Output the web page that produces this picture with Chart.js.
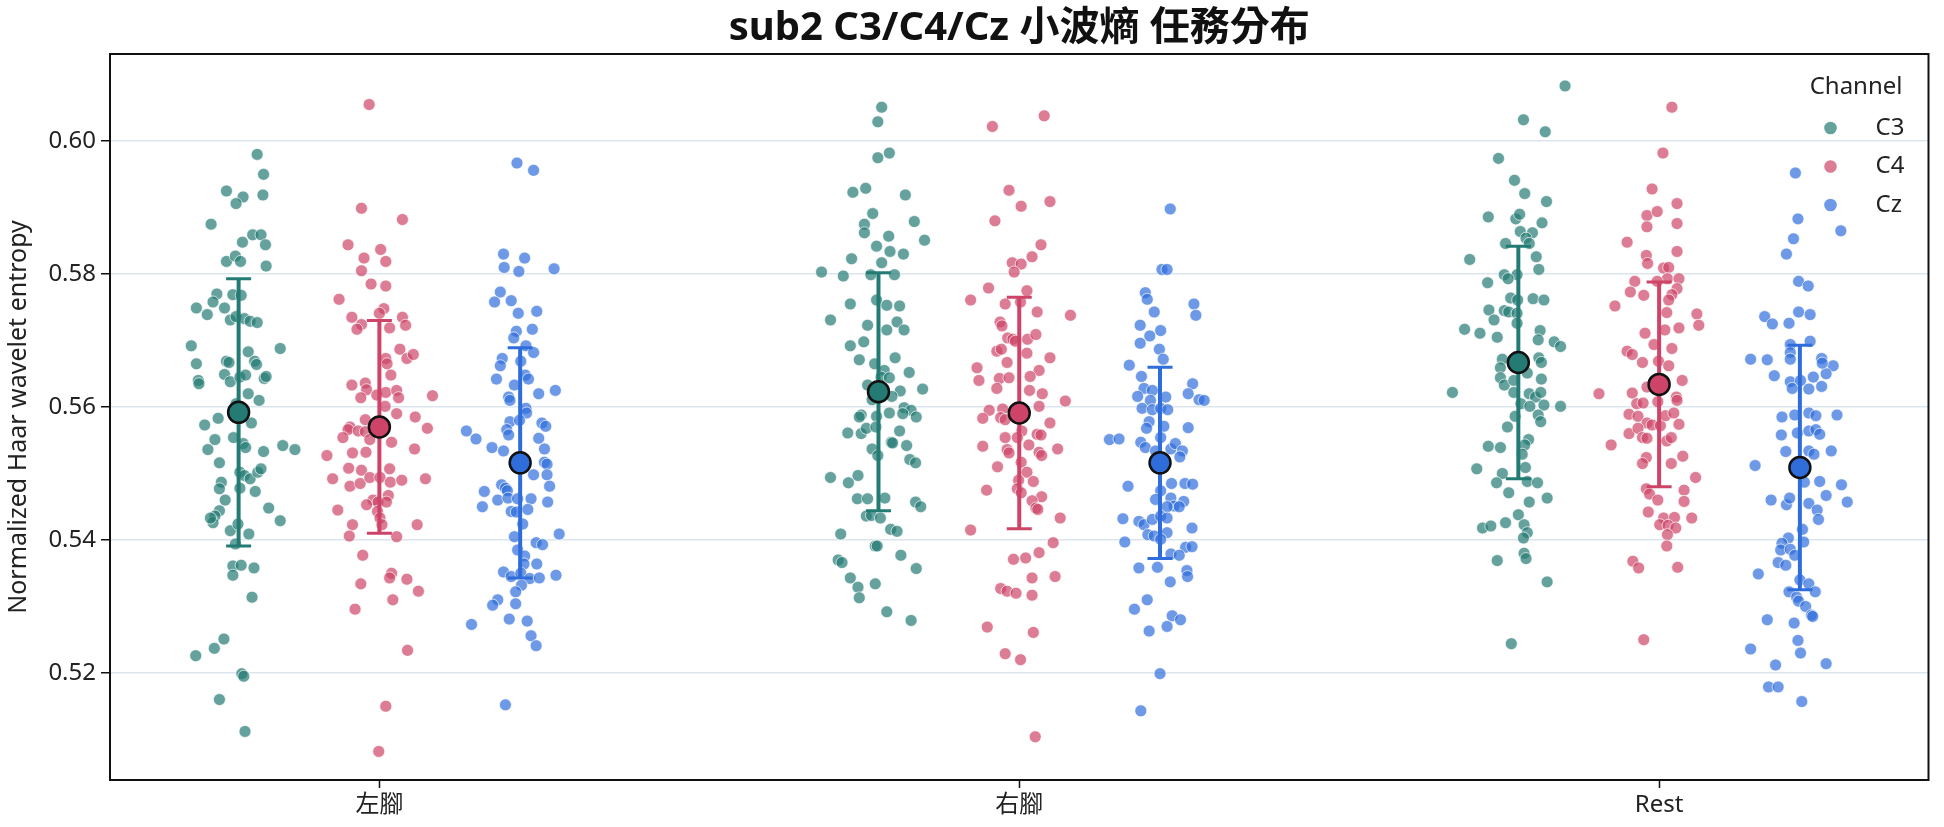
<!DOCTYPE html>
<html><head><meta charset="utf-8">
<script src="https://cdn.jsdelivr.net/npm/chart.js@4.4.1/dist/chart.umd.min.js"></script>
<style>html,body{margin:0;padding:0;background:#fff;}#wrap{width:1944px;height:827px;}</style>
</head><body><div id="wrap"><canvas id="c" width="1944" height="827"></canvas></div>
<script>
const categories = ['左腳', '右腳', 'Rest'];
const channels = ['C3', 'C4', 'Cz'];
const yTicks = [0.52, 0.54, 0.56, 0.58, 0.60];
const titleText = 'sub2 C3/C4/Cz 小波熵 任務分布';
const yTitle = 'Normalized Haar wavelet entropy';

// per-group raw values (y) and horizontal jitter (category units)
const c3_left_y = [0.5980,0.5950,0.5925,0.5916,0.5906,0.5919,0.5875,0.5859,0.5859,0.5848,0.5844,0.5819,0.5827,0.5819,0.5812,0.5770,0.5769,0.5768,0.5758,0.5749,0.5739,0.5749,0.5731,0.5736,0.5733,0.5729,0.5727,0.5692,0.5688,0.5683,0.5665,0.5669,0.5667,0.5669,0.5664,0.5649,0.5638,0.5645,0.5648,0.5640,0.5635,0.5643,0.5646,0.5620,0.5610,0.5605,0.5583,0.5573,0.5576,0.5554,0.5551,0.5536,0.5545,0.5539,0.5542,0.5536,0.5533,0.5516,0.5502,0.5497,0.5492,0.5502,0.5507,0.5487,0.5477,0.5478,0.5473,0.5460,0.5444,0.5436,0.5426,0.5433,0.5448,0.5429,0.5414,0.5424,0.5409,0.5394,0.5361,0.5362,0.5358,0.5347,0.5314,0.5251,0.5237,0.5226,0.5199,0.5195,0.5160,0.5112];
const c3_left_jx = [0.029,0.039,-0.019,0.007,-0.004,0.038,-0.043,0.022,0.035,0.006,0.042,-0.019,-0.005,0.003,0.043,-0.034,-0.009,0.004,-0.040,-0.066,-0.049,-0.022,-0.013,-0.004,0.009,0.018,0.029,-0.074,0.065,0.015,-0.066,-0.019,-0.015,0.025,0.028,-0.022,-0.013,0.002,0.011,-0.063,-0.062,0.040,0.043,0.015,0.032,-0.004,-0.032,-0.053,0.020,-0.008,-0.037,-0.048,0.007,0.011,0.069,0.088,0.039,-0.030,0.002,0.009,0.018,0.030,0.035,-0.027,-0.030,0.002,0.026,-0.021,-0.030,-0.037,-0.040,-0.044,0.047,0.065,-0.013,-0.001,0.016,-0.005,-0.009,0.004,0.024,-0.009,0.021,-0.023,-0.038,-0.067,0.005,0.008,-0.030,0.010];
const c4_left_y = [0.6055,0.5899,0.5882,0.5844,0.5837,0.5824,0.5819,0.5805,0.5785,0.5782,0.5762,0.5748,0.5741,0.5735,0.5735,0.5724,0.5717,0.5719,0.5723,0.5687,0.5673,0.5679,0.5673,0.5665,0.5648,0.5633,0.5636,0.5626,0.5614,0.5618,0.5622,0.5625,0.5614,0.5617,0.5601,0.5590,0.5585,0.5581,0.5568,0.5570,0.5566,0.5554,0.5564,0.5563,0.5551,0.5547,0.5527,0.5531,0.5532,0.5537,0.5508,0.5505,0.5507,0.5492,0.5481,0.5485,0.5494,0.5494,0.5487,0.5490,0.5492,0.5467,0.5460,0.5453,0.5457,0.5457,0.5445,0.5443,0.5433,0.5423,0.5423,0.5423,0.5406,0.5405,0.5377,0.5350,0.5343,0.5341,0.5334,0.5323,0.5310,0.5296,0.5234,0.5150,0.5082];
const c4_left_jx = [-0.016,-0.028,0.036,-0.049,0.002,-0.024,0.010,-0.028,-0.013,0.010,-0.063,0.007,0.000,-0.043,0.036,-0.028,-0.035,0.016,0.041,0.032,0.043,0.053,0.010,0.012,0.018,-0.043,-0.022,-0.020,-0.029,-0.004,0.010,0.027,0.030,0.083,0.009,0.027,0.056,-0.022,0.075,-0.046,-0.049,-0.057,-0.033,-0.022,-0.015,0.019,-0.082,-0.042,-0.021,0.055,-0.048,-0.028,0.016,-0.073,-0.046,-0.030,-0.015,0.001,0.017,0.035,0.072,0.014,-0.010,-0.020,-0.002,0.011,-0.065,-0.003,0.001,0.004,-0.042,0.059,-0.047,0.027,-0.026,0.019,0.016,0.043,-0.029,0.061,0.021,-0.038,0.044,0.010,-0.001];
const cz_left_y = [0.5967,0.5956,0.5830,0.5824,0.5810,0.5804,0.5808,0.5773,0.5758,0.5760,0.5744,0.5741,0.5717,0.5714,0.5704,0.5692,0.5682,0.5673,0.5662,0.5669,0.5648,0.5642,0.5642,0.5633,0.5620,0.5625,0.5615,0.5610,0.5598,0.5591,0.5564,0.5552,0.5578,0.5566,0.5558,0.5580,0.5576,0.5571,0.5553,0.5539,0.5534,0.5537,0.5517,0.5514,0.5498,0.5498,0.5481,0.5473,0.5483,0.5478,0.5474,0.5450,0.5460,0.5463,0.5462,0.5462,0.5443,0.5442,0.5446,0.5457,0.5424,0.5409,0.5405,0.5396,0.5393,0.5385,0.5376,0.5364,0.5364,0.5352,0.5345,0.5350,0.5342,0.5343,0.5347,0.5332,0.5322,0.5310,0.5302,0.5304,0.5273,0.5281,0.5278,0.5256,0.5241,0.5152];
const cz_left_jx = [-0.005,0.021,-0.026,0.007,-0.025,-0.002,0.053,-0.031,-0.040,-0.014,0.026,-0.003,0.019,-0.006,-0.010,0.009,0.021,-0.028,-0.031,0.001,0.008,0.013,-0.037,-0.009,0.029,0.055,-0.018,-0.016,0.009,0.010,-0.084,-0.069,-0.016,-0.021,-0.018,-0.001,0.034,0.040,0.029,-0.044,-0.026,0.038,0.038,0.042,0.021,0.042,0.046,-0.056,-0.029,-0.023,-0.020,-0.059,-0.035,-0.019,-0.004,0.017,-0.014,-0.006,0.012,0.043,0.004,0.061,-0.009,0.025,0.035,-0.004,0.007,0.006,0.026,-0.026,-0.014,0.001,0.015,0.030,0.056,0.002,-0.007,-0.035,-0.043,-0.007,-0.076,-0.017,0.011,0.017,0.025,-0.023];
const c3_right_y = [0.6051,0.6029,0.5982,0.5975,0.5923,0.5929,0.5919,0.5891,0.5875,0.5862,0.5879,0.5857,0.5851,0.5842,0.5834,0.5830,0.5823,0.5817,0.5803,0.5797,0.5799,0.5799,0.5755,0.5761,0.5753,0.5752,0.5731,0.5723,0.5716,0.5728,0.5716,0.5692,0.5698,0.5671,0.5665,0.5674,0.5655,0.5652,0.5645,0.5644,0.5633,0.5624,0.5627,0.5611,0.5616,0.5599,0.5595,0.5585,0.5588,0.5585,0.5586,0.5591,0.5590,0.5561,0.5560,0.5568,0.5570,0.5564,0.5547,0.5546,0.5542,0.5537,0.5527,0.5521,0.5516,0.5494,0.5486,0.5497,0.5462,0.5462,0.5463,0.5457,0.5450,0.5436,0.5437,0.5433,0.5416,0.5413,0.5409,0.5391,0.5391,0.5377,0.5370,0.5366,0.5357,0.5343,0.5329,0.5313,0.5334,0.5292,0.5279];
const c3_right_jx = [0.005,-0.001,0.017,-0.001,-0.040,-0.020,0.042,-0.009,-0.022,-0.022,0.056,0.016,0.072,-0.003,0.018,0.039,-0.042,0.005,-0.089,-0.055,-0.012,0.025,-0.044,-0.003,0.013,0.033,-0.075,-0.017,0.013,0.029,0.040,-0.044,-0.023,-0.030,-0.006,0.026,0.009,0.048,0.004,0.017,-0.017,0.034,0.069,-0.010,0.021,0.040,0.051,0.059,-0.027,-0.030,-0.003,0.017,0.038,-0.048,-0.027,-0.019,-0.004,0.033,0.020,0.022,0.044,-0.010,-0.001,0.049,0.058,-0.075,-0.047,-0.032,-0.033,-0.017,0.010,0.058,0.066,-0.019,-0.011,0.003,0.019,0.029,-0.059,-0.005,-0.002,0.035,-0.063,-0.057,0.059,-0.044,-0.032,-0.030,-0.005,0.013,0.051];
const c4_right_y = [0.6038,0.6022,0.5926,0.5909,0.5902,0.5880,0.5844,0.5826,0.5817,0.5815,0.5803,0.5779,0.5761,0.5775,0.5755,0.5758,0.5743,0.5738,0.5728,0.5722,0.5704,0.5702,0.5699,0.5702,0.5709,0.5684,0.5687,0.5681,0.5674,0.5667,0.5659,0.5640,0.5655,0.5646,0.5643,0.5644,0.5628,0.5625,0.5620,0.5609,0.5601,0.5595,0.5597,0.5583,0.5584,0.5581,0.5576,0.5564,0.5559,0.5558,0.5554,0.5554,0.5541,0.5543,0.5537,0.5536,0.5531,0.5532,0.5527,0.5517,0.5510,0.5502,0.5490,0.5488,0.5475,0.5477,0.5471,0.5465,0.5459,0.5448,0.5446,0.5433,0.5415,0.5396,0.5381,0.5373,0.5371,0.5343,0.5345,0.5327,0.5323,0.5320,0.5317,0.5269,0.5261,0.5229,0.5220,0.5104];
const c4_right_jx = [0.039,-0.042,-0.016,0.048,0.003,-0.038,0.034,0.020,-0.011,0.003,-0.008,-0.048,-0.076,0.012,-0.022,0.002,0.028,0.080,-0.030,-0.027,-0.018,-0.010,-0.006,0.013,0.026,-0.035,-0.028,0.012,0.048,-0.019,-0.066,-0.063,0.031,0.017,-0.031,-0.016,-0.035,0.016,0.036,0.072,0.031,-0.047,-0.026,-0.057,-0.029,-0.022,0.048,0.004,0.028,0.034,-0.022,-0.003,-0.057,0.015,0.060,-0.019,-0.016,0.031,0.035,0.003,-0.034,0.012,-0.001,0.022,-0.051,-0.003,0.003,0.035,0.020,0.026,0.029,0.064,-0.076,0.053,0.031,0.010,-0.009,0.020,0.056,-0.029,-0.019,-0.005,0.020,-0.050,0.022,-0.022,0.002,0.025];
const cz_right_y = [0.5898,0.5807,0.5807,0.5772,0.5762,0.5755,0.5738,0.5743,0.5723,0.5715,0.5707,0.5696,0.5687,0.5672,0.5663,0.5646,0.5635,0.5628,0.5616,0.5625,0.5620,0.5615,0.5610,0.5611,0.5610,0.5598,0.5596,0.5598,0.5596,0.5578,0.5568,0.5571,0.5569,0.5551,0.5552,0.5547,0.5539,0.5554,0.5537,0.5545,0.5534,0.5525,0.5534,0.5481,0.5485,0.5485,0.5484,0.5474,0.5461,0.5463,0.5458,0.5451,0.5450,0.5450,0.5432,0.5428,0.5423,0.5431,0.5436,0.5433,0.5418,0.5408,0.5406,0.5411,0.5401,0.5397,0.5389,0.5390,0.5379,0.5377,0.5358,0.5359,0.5354,0.5345,0.5337,0.5310,0.5296,0.5286,0.5280,0.5270,0.5263,0.5199,0.5143];
const cz_right_jx = [0.016,0.003,0.011,-0.023,-0.020,0.053,0.056,-0.009,-0.031,0.001,-0.016,-0.031,-0.001,0.005,-0.048,-0.029,0.051,-0.025,-0.035,-0.012,0.044,0.009,-0.015,0.061,0.069,-0.028,-0.012,0.001,0.012,-0.017,-0.021,0.006,0.044,-0.079,-0.064,-0.030,-0.023,0.001,0.017,0.024,0.035,0.031,-0.007,-0.050,0.018,0.039,0.051,0.001,-0.007,0.017,0.037,0.022,0.030,0.011,-0.058,-0.033,-0.025,-0.012,0.001,0.011,0.050,-0.019,-0.009,0.011,0.001,-0.055,0.040,0.050,0.017,0.030,-0.033,-0.004,0.042,0.043,0.016,-0.020,-0.040,0.019,0.032,0.011,-0.017,0.000,-0.030];
const c3_rest_y = [0.6083,0.6032,0.6014,0.5974,0.5941,0.5921,0.5909,0.5886,0.5883,0.5890,0.5877,0.5864,0.5862,0.5854,0.5846,0.5846,0.5822,0.5826,0.5807,0.5799,0.5799,0.5793,0.5787,0.5764,0.5761,0.5763,0.5761,0.5746,0.5745,0.5743,0.5741,0.5731,0.5726,0.5717,0.5711,0.5705,0.5715,0.5701,0.5698,0.5691,0.5674,0.5667,0.5672,0.5659,0.5651,0.5644,0.5633,0.5640,0.5642,0.5622,0.5622,0.5620,0.5615,0.5622,0.5605,0.5601,0.5603,0.5601,0.5588,0.5578,0.5586,0.5570,0.5541,0.5539,0.5551,0.5543,0.5529,0.5507,0.5509,0.5500,0.5486,0.5488,0.5486,0.5471,0.5463,0.5457,0.5438,0.5426,0.5418,0.5421,0.5423,0.5411,0.5403,0.5380,0.5372,0.5369,0.5337,0.5244];
const c3_rest_jx = [0.073,0.008,0.042,-0.031,-0.006,0.010,0.044,-0.047,-0.004,0.002,0.037,0.003,0.022,0.012,-0.020,0.017,-0.076,0.028,0.032,-0.022,-0.002,-0.016,-0.048,-0.012,-0.001,0.023,0.040,-0.046,-0.022,-0.015,-0.002,-0.038,-0.002,-0.084,-0.060,-0.033,0.034,0.031,0.056,0.066,0.032,0.036,-0.025,-0.028,0.014,-0.028,-0.022,-0.007,0.036,-0.103,-0.007,0.017,0.027,0.035,0.004,0.018,0.040,0.066,0.031,0.035,-0.005,-0.017,-0.047,-0.028,0.016,0.010,0.006,-0.065,0.011,-0.025,-0.034,0.014,0.030,-0.015,0.045,0.017,0.000,-0.020,-0.056,-0.043,0.009,0.014,0.008,0.009,0.012,-0.033,0.045,-0.011];
const c4_rest_y = [0.6051,0.5982,0.5928,0.5906,0.5888,0.5894,0.5871,0.5876,0.5848,0.5834,0.5828,0.5816,0.5809,0.5810,0.5793,0.5793,0.5789,0.5789,0.5778,0.5773,0.5768,0.5769,0.5761,0.5752,0.5742,0.5740,0.5723,0.5719,0.5716,0.5711,0.5694,0.5688,0.5684,0.5679,0.5667,0.5669,0.5662,0.5640,0.5630,0.5620,0.5621,0.5615,0.5610,0.5605,0.5606,0.5608,0.5589,0.5586,0.5576,0.5573,0.5572,0.5587,0.5591,0.5574,0.5560,0.5568,0.5554,0.5553,0.5549,0.5554,0.5543,0.5524,0.5515,0.5515,0.5526,0.5494,0.5477,0.5469,0.5460,0.5475,0.5458,0.5442,0.5433,0.5434,0.5433,0.5423,0.5422,0.5418,0.5408,0.5391,0.5368,0.5358,0.5359,0.5250];
const c4_rest_jx = [0.020,0.006,-0.011,0.028,-0.019,-0.003,-0.019,0.028,-0.050,0.028,-0.020,-0.018,0.007,0.015,0.013,0.031,-0.038,-0.003,0.028,-0.045,-0.024,0.020,0.015,-0.069,0.012,0.059,0.062,0.031,0.009,-0.022,-0.008,0.020,-0.050,-0.042,-0.026,-0.001,0.015,0.036,-0.019,-0.094,-0.042,0.027,0.028,-0.035,-0.025,-0.002,-0.047,-0.033,-0.019,-0.011,0.002,0.010,0.023,0.031,-0.047,-0.033,-0.026,-0.019,0.012,0.019,-0.075,-0.020,-0.026,0.019,0.037,0.057,-0.020,-0.015,-0.002,0.039,0.039,-0.017,0.007,0.024,0.051,0.001,0.014,0.026,0.013,0.012,-0.041,-0.032,0.029,-0.024];
const cz_rest_y = [0.5952,0.5883,0.5865,0.5853,0.5830,0.5789,0.5782,0.5736,0.5725,0.5726,0.5743,0.5739,0.5694,0.5699,0.5672,0.5671,0.5682,0.5672,0.5673,0.5662,0.5650,0.5666,0.5647,0.5645,0.5638,0.5640,0.5628,0.5627,0.5631,0.5585,0.5588,0.5591,0.5587,0.5588,0.5558,0.5561,0.5564,0.5566,0.5559,0.5533,0.5534,0.5529,0.5534,0.5512,0.5487,0.5488,0.5483,0.5460,0.5453,0.5463,0.5455,0.5467,0.5457,0.5445,0.5431,0.5416,0.5403,0.5395,0.5385,0.5386,0.5377,0.5397,0.5366,0.5362,0.5349,0.5340,0.5322,0.5334,0.5322,0.5314,0.5308,0.5300,0.5287,0.5285,0.5280,0.5275,0.5249,0.5230,0.5236,0.5212,0.5214,0.5179,0.5179,0.5157];
const cz_rest_jx = [-0.007,-0.003,0.064,-0.010,-0.021,-0.002,0.013,-0.055,-0.043,-0.017,-0.002,0.016,-0.015,0.016,-0.077,-0.051,-0.015,-0.015,0.034,0.052,0.041,0.035,-0.040,0.021,-0.015,0.001,-0.012,0.014,0.034,-0.028,-0.008,0.014,0.025,0.058,-0.029,-0.004,0.014,0.025,0.031,-0.022,0.014,0.022,0.049,-0.070,0.007,0.031,0.065,-0.045,-0.021,-0.016,0.014,0.041,0.074,0.027,0.029,0.004,-0.018,-0.028,-0.030,-0.015,-0.008,0.006,-0.034,-0.022,-0.065,0.000,-0.017,0.014,0.024,-0.005,-0.002,0.009,0.018,0.020,-0.051,-0.009,-0.003,0.001,-0.077,-0.038,0.041,-0.049,-0.034,0.003];

// summary per channel (order: 左腳, 右腳, Rest)
const c3_mean = [0.5592, 0.5623, 0.5667];
const c3_sd   = [0.0201, 0.0179, 0.0175];
const c4_mean = [0.5570, 0.5591, 0.5634];
const c4_sd   = [0.0160, 0.0174, 0.0154];
const cz_mean = [0.5516, 0.5516, 0.5509];
const cz_sd   = [0.0173, 0.0144, 0.0184];

const FONT = '"Noto Sans", "Noto Sans CJK TC", sans-serif';
const colors = { C3: [35,123,115], C4: [205,68,104], Cz: [47,109,219] };
const rgba = (c, a) => `rgba(${c[0]},${c[1]},${c[2]},${a})`;
const dodge = { C3: -0.22, C4: 0, Cz: 0.22 };
const groups = {
  C3: { y: [c3_left_y, c3_right_y, c3_rest_y], jx: [c3_left_jx, c3_right_jx, c3_rest_jx], mean: c3_mean, sd: c3_sd },
  C4: { y: [c4_left_y, c4_right_y, c4_rest_y], jx: [c4_left_jx, c4_right_jx, c4_rest_jx], mean: c4_mean, sd: c4_sd },
  Cz: { y: [cz_left_y, cz_right_y, cz_rest_y], jx: [cz_left_jx, cz_right_jx, cz_rest_jx], mean: cz_mean, sd: cz_sd }
};

const datasets = [];
channels.forEach(ch => {
  const g = groups[ch];
  const pts = [];
  categories.forEach((cat, i) => {
    const ys = g.y[i], js = g.jx[i];
    const n = Math.min(ys.length, js.length);
    for (let j = 0; j < n; j++) pts.push({ x: i + dodge[ch] + js[j], y: ys[j] });
  });
  datasets.push({
    label: ch, data: pts, order: 3,
    pointRadius: 6, pointHoverRadius: 6,
    pointBackgroundColor: rgba(colors[ch], 0.7),
    pointBorderColor: 'rgba(255,255,255,0.75)', pointBorderWidth: 0.9
  });
});
channels.forEach(ch => {
  const g = groups[ch];
  const bars = [];
  categories.forEach((cat, i) => {
    const x = i + dodge[ch];
    bars.push({ x, y: g.mean[i] - g.sd[i] }, { x, y: g.mean[i] + g.sd[i] }, { x, y: null });
  });
  datasets.push({
    label: ch + ' sd', data: bars, order: 2, showLine: true, spanGaps: false,
    borderColor: rgba(colors[ch], 1), borderWidth: 4,
    pointStyle: 'line', pointRadius: 12.5, pointHoverRadius: 12.5,
    pointBorderColor: rgba(colors[ch], 1), pointBorderWidth: 3
  });
});
channels.forEach(ch => {
  const g = groups[ch];
  datasets.push({
    label: ch + ' mean', order: 1,
    data: categories.map((c, i) => ({ x: i + dodge[ch], y: g.mean[i] })),
    pointRadius: 10.5, pointHoverRadius: 10.5,
    pointBackgroundColor: rgba(colors[ch], 1),
    pointBorderColor: '#111', pointBorderWidth: 2.5
  });
});

const framePlugin = {
  id: 'frame',
  beforeDatasetsDraw(chart) {
    const { ctx, chartArea: a } = chart;
    ctx.save(); ctx.strokeStyle = '#111'; ctx.lineWidth = 2;
    ctx.strokeRect(a.left, a.top, a.right - a.left, a.bottom - a.top);
    ctx.restore();
  }
};
const legendPlugin = {
  id: 'channelLegend',
  afterDraw(chart) {
    const { ctx, chartArea: a } = chart;
    ctx.save();
    ctx.fillStyle = '#222'; ctx.font = '24px ' + FONT; ctx.textBaseline = 'middle';
    ctx.textAlign = 'right';
    ctx.fillText('Channel', a.right - 26, a.top + 33);
    channels.forEach((ch, k) => {
      const y = a.top + 74 + k * 38.5;
      ctx.beginPath(); ctx.arc(a.right - 98, y, 6.3, 0, Math.PI * 2);
      ctx.fillStyle = rgba(colors[ch], 0.7); ctx.fill();
      ctx.fillStyle = '#222'; ctx.textAlign = 'left';
      ctx.fillText(ch, a.right - 53, y);
    });
    ctx.restore();
  }
};

new Chart(document.getElementById('c'), {
  type: 'scatter',
  data: { datasets },
  options: {
    responsive: false, animation: false, devicePixelRatio: 1,
    layout: { padding: { left: 0, right: 7, top: 0, bottom: 0 } },
    plugins: {
      legend: { display: false }, tooltip: { enabled: false },
      title: { display: true, fullSize: false, text: titleText, color: '#111',
        font: { family: FONT, size: 40, weight: 'bold' }, padding: { top: 5, bottom: 1 } }
    },
    scales: {
      x: {
        type: 'linear', min: -0.421, max: 2.421,
        afterBuildTicks: s => { s.ticks = categories.map((c, i) => ({ value: i })); },
        ticks: { callback: v => categories[v], color: '#222', font: { family: FONT, size: 24 }, padding: 3, autoSkip: false, maxRotation: 0 },
        grid: { drawOnChartArea: false, tickLength: 8, tickColor: '#111', tickWidth: 1.5 },
        border: { display: false },
        afterFit: s => { s.height = 47; }
      },
      y: {
        min: 0.5039, max: 0.6131,
        afterBuildTicks: s => { s.ticks = yTicks.map(v => ({ value: v })); },
        ticks: { callback: v => Number(v).toFixed(2), color: '#222', font: { family: FONT, size: 24 }, padding: 5 },
        grid: { color: '#dbe5ee', lineWidth: 1.5, tickLength: 9, tickColor: '#111', tickWidth: 1.5 },
        border: { display: false },
        title: { display: true, text: yTitle, color: '#222', font: { family: FONT, size: 25 }, padding: { top: 4, bottom: 0 } },
        afterFit: s => { s.width = 110; }
      }
    }
  },
  plugins: [framePlugin, legendPlugin]
});
</script>
</body></html>
